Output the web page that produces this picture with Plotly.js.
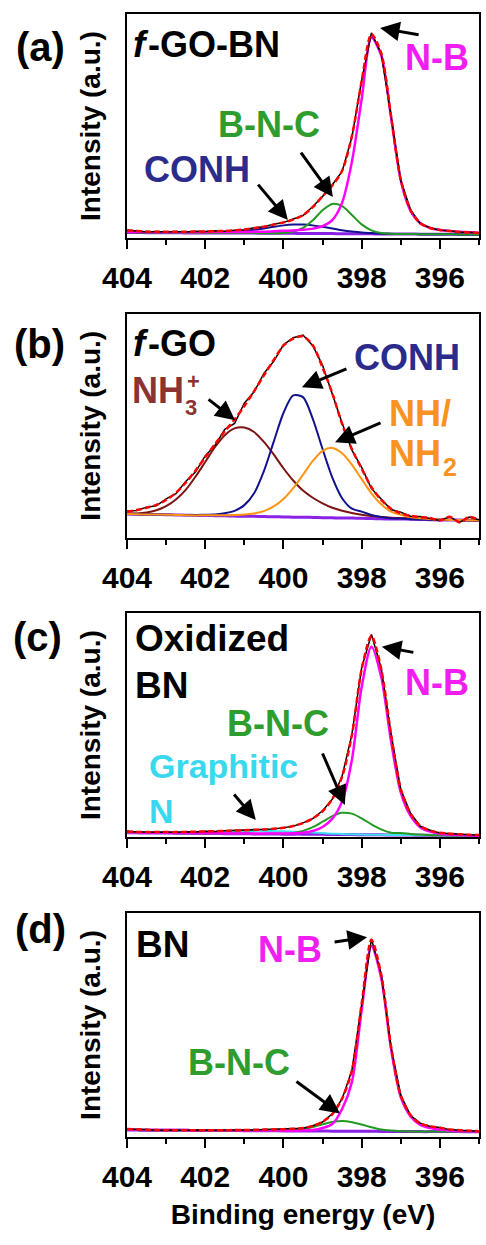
<!DOCTYPE html>
<html>
<head>
<meta charset="utf-8">
<script src="https://cdn.plot.ly/plotly-3.0.1.min.js"></script>
<style>
html,body{margin:0;padding:0;background:#fff;}
#chart{width:486px;height:1245px;}
</style>
</head>
<body>
<div id="chart"></div>
<script>
// Binding energy grid (eV)
const energy = [404,403.75,403.5,403.25,403,402.75,402.5,402.25,402,401.75,401.5,401.25,401,400.75,400.5,400.25,400,399.75,399.5,399.25,399,398.75,398.5,398.25,398,397.75,397.5,397.25,397,396.75,396.5,396.25,396,395.75,395.5,395.25,395];

// (a) f-GO-BN
const a_base  = [2.5,2.5,2.4,2.4,2.4,2.4,2.3,2.3,2.3,2.3,2.2,2.2,2.2,2.2,2.1,2.1,2.1,2.1,2.0,2.0,2.0,2.0,1.9,1.9,1.9,1.9,1.8,1.8,1.8,1.8,1.7,1.7,1.7,1.7,1.6,1.6,1.6];
const a_NB    = [2.6,2.7,2.6,2.6,2.6,2.6,2.6,2.6,2.6,2.7,2.6,2.7,2.7,2.8,2.8,3.0,3.2,3.4,3.7,4.2,5.3,8.0,15.8,34.0,62.0,89.5,81.5,54.1,25.8,12.1,6.6,4.5,3.6,3.2,2.8,2.6,2.4];
const a_CONH  = [2.5,2.5,2.4,2.4,2.4,2.4,2.3,2.3,2.35,2.4,2.45,2.7,3.1,3.65,4.25,5.0,5.65,6.0,6.0,5.65,5.0,4.3,3.5,2.9,2.45,2.2,1.95,1.85,1.8,1.8,1.7,1.7,1.7,1.7,1.6,1.6,1.6];
const a_BNC   = [2.5,2.5,2.4,2.4,2.4,2.4,2.3,2.3,2.3,2.3,2.2,2.2,2.2,2.2,2.1,2.1,2.25,2.85,4.5,7.9,12.4,15.2,14.25,10.3,6.1,3.4,2.2,1.9,1.8,1.8,1.7,1.7,1.7,1.7,1.6,1.6,1.6];
const a_fit   = [3.4,3.1,2.9,2.8,2.8,2.8,2.8,2.9,2.95,3.05,3.15,3.4,3.8,4.4,5.1,6.0,7.0,8.2,10.2,13.8,18.7,23.5,30.0,45.5,70.0,91.0,82.5,54.5,26.0,12.4,6.6,4.5,3.6,3.1,2.7,2.5,2.3];
const a_data  = [3.6,3.0,2.7,2.9,2.7,2.9,2.7,3.0,2.9,3.2,3.0,3.5,3.7,4.6,5.0,6.2,6.9,8.5,10.0,14.1,18.5,23.8,29.7,45.0,70.4,91.6,82.3,54.8,25.7,12.6,6.4,4.6,3.5,3.2,2.6,2.6,2.2];

// (b) f-GO
const b_base  = [10.5,10.4,10.3,10.3,10.2,10.1,10.0,9.9,9.9,9.8,9.7,9.6,9.5,9.5,9.4,9.3,9.2,9.1,9.1,9.0,8.9,8.8,8.7,8.7,8.6,8.5,8.4,8.3,8.3,8.2,8.1,8.0,7.9,7.9,7.8,7.7,7.6];
const b_NH3   = [10.7,10.8,11.2,12.2,14.0,17.0,21.3,27.2,33.8,40.5,45.8,48.8,49.2,47.2,42.8,37.2,31.0,25.5,21.0,17.8,15.3,13.3,12.0,11.0,10.2,9.6,9.2,8.9,8.7,8.5,8.3,8.2,8.0,7.9,7.8,7.7,7.6];
const b_CONH  = [10.5,10.4,10.3,10.3,10.2,10.1,10.1,10.1,10.2,10.3,10.9,11.9,14.5,19.8,29.7,42.8,55.7,63.6,62.8,53.1,39.6,26.8,17.6,12.9,11.6,10.1,9.2,8.6,8.5,8.2,8.1,8.0,7.9,7.9,7.8,7.7,7.6];
const b_NH2   = [10.5,10.4,10.3,10.3,10.2,10.1,10.0,9.9,10.0,10.0,10.0,10.1,10.3,10.8,11.8,13.9,17.2,22.1,28.1,34.3,38.8,40.1,37.7,32.6,26.1,19.8,14.9,11.6,10.2,9.2,8.6,8.3,8.0,7.9,7.8,7.7,7.6];
const b_fit   = [11.5,12.3,13.3,14.6,16.8,20.0,24.5,29.9,35.9,41.8,47.5,52.8,58.8,65.5,72.5,79.4,85.8,89.0,90.0,86.0,76.0,64.5,50.8,39.5,30.8,22.5,16.8,12.9,10.8,9.7,9.1,8.8,7.6,9.3,6.8,9.2,7.9];
const b_data  = [11.9,12.1,13.6,14.2,17.3,19.6,25.1,29.3,36.5,41.2,48.4,51.0,60.1,65.2,73.4,78.8,86.2,89.4,90.6,85.8,77.0,63.9,51.2,39.1,31.4,21.9,17.4,12.5,11.3,9.5,9.4,8.5,7.6,9.3,6.8,9.2,7.9];

// (c) Oxidized BN
const c_base  = [2.0,2.0,1.9,1.9,1.9,1.8,1.8,1.7,1.7,1.7,1.6,1.6,1.6,1.5,1.5,1.5,1.4,1.4,1.4,1.3,1.3,1.2,1.2,1.2,1.1,1.1,1.1,1.0,1.0,1.0,0.9,0.9,0.9,0.8,0.8,0.7,0.7];
const c_NB    = [2.1,2.1,2.0,2.0,2.0,1.9,1.9,1.8,1.8,1.8,1.7,1.7,1.7,1.6,1.6,1.7,1.7,1.8,2.0,2.8,4.6,8.3,16.0,34.5,67.0,85.0,71.5,43.0,20.0,9.5,4.4,2.5,1.6,1.2,1.0,0.8,0.7];
const c_BNC   = [2.0,2.0,1.9,1.9,1.9,1.8,1.8,1.7,1.7,1.7,1.6,1.6,1.6,1.5,1.5,1.55,1.6,1.95,2.85,4.5,6.95,9.4,10.9,10.55,8.45,5.8,3.55,2.05,1.9,1.5,1.2,0.9,0.9,0.8,0.8,0.7,0.7];
const c_graph = [2.0,2.0,1.95,1.95,2.0,2.0,2.05,2.1,2.25,2.4,2.55,2.7,2.8,2.85,2.85,2.8,2.65,2.5,2.3,2.1,1.85,1.6,1.45,1.35,1.2,1.15,1.1,1.0,1.0,1.0,0.9,0.9,0.9,0.8,0.8,0.7,0.7];
const c_fit   = [2.5,2.4,2.3,2.3,2.3,2.3,2.4,2.5,2.6,2.7,2.8,3.0,3.1,3.3,3.5,3.8,4.2,5.0,6.3,8.4,11.6,17.1,27.0,45.5,75.0,89.8,75.0,46.0,21.5,10.5,5.0,3.0,2.0,1.6,1.3,1.1,1.0];
const c_data  = [2.8,2.3,2.4,2.2,2.4,2.2,2.5,2.4,2.7,2.6,2.9,3.0,3.2,3.2,3.6,3.7,4.3,4.9,6.4,8.3,11.8,17.0,27.3,45.8,75.6,90.4,75.4,46.3,21.3,10.7,4.9,3.1,1.9,1.7,1.2,1.2,0.9];

// (d) BN
const d_base  = [3.1,3.1,3.0,3.0,3.0,3.0,3.0,2.9,2.9,2.9,2.9,2.9,2.8,2.8,2.8,2.8,2.7,2.7,2.7,2.7,2.7,2.6,2.6,2.6,2.6,2.6,2.5,2.5,2.5,2.5,2.4,2.4,2.4,2.4,2.4,2.3,2.3];
const d_NB    = [3.2,3.2,3.1,3.1,3.1,3.1,3.1,3.0,3.0,3.0,3.0,3.0,2.9,2.9,2.9,2.9,2.8,2.8,2.9,3.1,4.0,5.8,12.5,24.5,56.6,85.3,71.0,39.5,17.8,9.2,5.4,4.0,3.3,2.9,2.6,2.5,2.4];
const d_BNC   = [3.1,3.1,3.0,3.0,3.0,3.0,3.0,2.9,2.9,2.9,2.9,2.9,2.8,2.8,2.8,2.8,2.8,3.05,3.6,4.5,5.7,6.7,7.1,6.6,5.55,4.35,3.35,2.85,2.6,2.5,2.4,2.4,2.4,2.4,2.4,2.3,2.3];
const d_fit   = [3.6,3.4,3.2,3.1,3.0,3.0,3.0,3.0,3.0,3.0,3.0,3.1,3.1,3.2,3.3,3.4,3.5,3.7,4.0,4.9,6.8,10.2,17.2,29.5,59.5,88.0,72.5,40.5,18.5,9.8,6.0,4.8,4.1,3.4,3.0,2.8,2.6];
const d_data  = [3.7,3.3,3.3,3.0,3.1,2.9,3.0,3.1,2.9,3.0,3.1,3.0,3.2,3.1,3.3,3.5,3.4,3.8,3.9,5.0,6.7,10.4,17.0,29.8,60.0,88.4,72.8,40.2,18.7,9.6,6.2,4.7,4.2,3.3,3.0,2.7,2.6];

const tickVals = [404,402,400,398,396];
const tickText = ['404','402','400','398','396'];
const minorVals = [403,401,399,397,395];

const COL = {
  base:'#8a22e6', NB:'#ff00ff', BNC:'#229a22', CONH:'#12128c',
  NH3:'#7d1414', NH2:'#ff9410', graph:'#40e0f0', data:'#000000', fit:'#ff0000'
};
const LBL = {NB:'#f01ef0', BNC:'#2e9d2e', CONH:'#2b2b8c', NH3:'#8b3232', NH2:'#f7931e', graph:'#3ad8ee'};

function tr(y, color, n, opts){
  opts = opts || {};
  return {
    x: energy, y: y, type:'scatter', mode:'lines',
    xaxis: n===1?'x':'x'+n, yaxis: n===1?'y':'y'+n,
    line:{color:color, width:opts.w||2, dash:opts.dash||'solid', shape:opts.shape||'spline', smoothing:0.8},
    hoverinfo:'skip', showlegend:false
  };
}

const traces = [
  tr(a_base, COL.base, 1, {w:3}), tr(a_CONH, COL.CONH, 1), tr(a_BNC, COL.BNC, 1), tr(a_NB, COL.NB, 1, {w:2.5}),
  tr(a_data, COL.data, 1, {w:1.5, shape:'linear'}), tr(a_fit, COL.fit, 1, {w:2.5, dash:'6px,3px'}),

  tr(b_base, COL.base, 2, {w:3}), tr(b_NH3, COL.NH3, 2), tr(b_CONH, COL.CONH, 2), tr(b_NH2, COL.NH2, 2),
  tr(b_data, COL.data, 2, {w:1.5, shape:'linear'}), tr(b_fit, COL.fit, 2, {w:2.5, dash:'6px,3px'}),

  tr(c_base, COL.base, 3, {w:3}), tr(c_graph, COL.graph, 3), tr(c_BNC, COL.BNC, 3), tr(c_NB, COL.NB, 3, {w:2.5}),
  tr(c_data, COL.data, 3, {w:1.5, shape:'linear'}), tr(c_fit, COL.fit, 3, {w:2.5, dash:'6px,3px'}),

  tr(d_base, COL.base, 4, {w:3}), tr(d_BNC, COL.BNC, 4), tr(d_NB, COL.NB, 4, {w:2.5}),
  tr(d_data, COL.data, 4, {w:1.5, shape:'linear'}), tr(d_fit, COL.fit, 4, {w:2.5, dash:'6px,3px'})
];

const FONT = 'Liberation Sans, Arial, Helvetica, sans-serif';

function xax(n, showTitle){
  const ax = {
    domain:[0,1], anchor: n===1?'y':'y'+n, range:[404,395],
    tickmode:'array', tickvals:tickVals, ticktext:tickText,
    ticks:'outside', ticklen:9, tickwidth:2, tickcolor:'#000',
    minor:{tickmode:'array', tickvals:minorVals, ticks:'outside', ticklen:5, tickwidth:2, tickcolor:'#000'},
    ticklabelstandoff:3,
    showline:true, mirror:true, linecolor:'#000', linewidth:2,
    showgrid:false, zeroline:false,
    tickfont:{family:FONT, size:30, color:'#000', weight:'bold'},
    fixedrange:true
  };
  if (showTitle) ax.title = {text:'Binding energy (eV)', font:{family:FONT, size:28, color:'#000', weight:'bold'}, standoff:12};
  return ax;
}
function yax(n, dom){
  return {
    domain:dom, anchor: n===1?'x':'x'+n, range:[0,100],
    showticklabels:false, ticks:'', showline:true, mirror:true, linecolor:'#000', linewidth:2,
    showgrid:false, zeroline:false, fixedrange:true,
    title:{text:'Intensity (a.u.)', font:{family:FONT, size:28, color:'#000', weight:'bold'}, standoff:16}
  };
}

// Text placed in each panel's own domain fraction (0..1 across the plot box)
function txt(n, xd, yd, text, color, size, xanchor, style){
  const xr = n===1?'x domain':'x'+n+' domain';
  const yr = n===1?'y domain':'y'+n+' domain';
  const f = {family:FONT, size:size, color:color, weight:'bold'};
  if (style) f.style = style;
  return {xref:xr, yref:yr, x:xd, y:yd, text:text, showarrow:false,
    xanchor:xanchor||'center', yanchor:'middle', align:'left', font:f};
}
function arr(n, xd, yd, ax, ay){
  const xr = n===1?'x domain':'x'+n+' domain';
  const yr = n===1?'y domain':'y'+n+' domain';
  return {xref:xr, yref:yr, x:xd, y:yd, ax:ax, ay:ay, text:'', showarrow:true,
    arrowhead:2, arrowsize:1.3, arrowwidth:3, arrowcolor:'#000', standoff:0, startstandoff:0};
}

const annotations = [
  // panel letters
  txt(1, -0.247, 0.853, '(a)', '#000', 40),
  txt(2, -0.250, 0.864, '(b)', '#000', 40),
  txt(3, -0.253, 0.894, '(c)', '#000', 40),
  txt(4, -0.247, 0.927, '(d)', '#000', 40),
  // sample names
  txt(1, 0.012, 0.866, 'f', '#000', 37, 'left', 'italic'),
  txt(1, 0.054, 0.866, '-GO-BN', '#000', 36, 'left'),
  txt(2, 0.012, 0.868, 'f', '#000', 37, 'left', 'italic'),
  txt(2, 0.054, 0.868, '-GO', '#000', 36, 'left'),
  txt(3, 0.018, 0.885, 'Oxidized', '#000', 37, 'left'),
  txt(3, 0.018, 0.675, 'BN', '#000', 37, 'left'),
  txt(4, 0.021, 0.860, 'BN', '#000', 37, 'left'),
  // (a) labels
  txt(1, 0.881, 0.808, 'N-B', LBL.NB, 36),
  txt(1, 0.403, 0.509, 'B-N-C', LBL.BNC, 36),
  txt(1, 0.199, 0.304, 'CONH', LBL.CONH, 36),
  arr(1, 0.719, 0.9375, 40, 7),
  arr(1, 0.585, 0.183, -33, -46),
  arr(1, 0.457, 0.080, -31, -37),
  // (b) labels
  txt(2, 0.008, 0.658, 'NH', LBL.NH3, 36, 'left'),
  txt(2, 0.160, 0.582, '3', LBL.NH3, 22, 'left'),
  txt(2, 0.166, 0.700, '+', LBL.NH3, 22, 'left'),
  txt(2, 0.795, 0.806, 'CONH', LBL.CONH, 36),
  txt(2, 0.739, 0.556, 'NH/', LBL.NH2, 36, 'left'),
  txt(2, 0.739, 0.377, 'NH', LBL.NH2, 36, 'left'),
  txt(2, 0.893, 0.315, '2', LBL.NH2, 25, 'left'),
  arr(2, 0.307, 0.525, -28, -22),
  arr(2, 0.497, 0.672, 46, -19),
  arr(2, 0.591, 0.426, 47, -20),
  // (c) labels
  txt(3, 0.881, 0.689, 'N-B', LBL.NB, 36),
  txt(3, 0.429, 0.506, 'B-N-C', LBL.BNC, 36),
  txt(3, 0.057, 0.318, 'Graphitic', LBL.graph, 34, 'left'),
  txt(3, 0.057, 0.117, 'N', LBL.graph, 34, 'left'),
  arr(3, 0.724, 0.850, 33, 6),
  arr(3, 0.619, 0.144, -23, -53),
  arr(3, 0.366, 0.077, -23, -27),
  // (d) labels
  txt(4, 0.463, 0.838, 'N-B', LBL.NB, 36),
  txt(4, 0.318, 0.333, 'B-N-C', LBL.BNC, 36),
  arr(4, 0.682, 0.892, -34, 5),
  arr(4, 0.605, 0.105, -45, -33)
];

const layout = {
  width:486, height:1245,
  margin:{l:127, r:7, t:14, b:108},
  paper_bgcolor:'#fff', plot_bgcolor:'#fff',
  showlegend:false,
  font:{family:FONT, color:'#000'},
  xaxis: xax(1,false), xaxis2: xax(2,false), xaxis3: xax(3,false), xaxis4: xax(4,true),
  yaxis: yax(1,[0.8005,1.0]), yaxis2: yax(2,[0.5338,0.7329]), yaxis3: yax(3,[0.2669,0.4666]), yaxis4: yax(4,[0.0,0.1995]),
  annotations: annotations
};

Plotly.newPlot('chart', traces, layout, {staticPlot:true, displayModeBar:false});
</script>
</body>
</html>
